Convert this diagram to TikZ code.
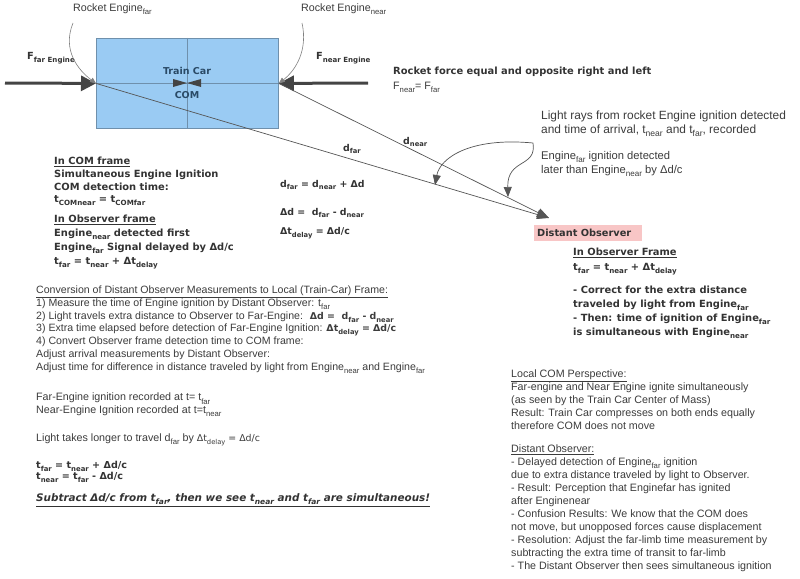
\documentclass[tikz,border=0pt]{standalone}
\usepackage{fontspec}
\setmainfont{Liberation Sans}
\newfontfamily\verd{DejaVu Sans}
\usetikzlibrary{arrows.meta}
\definecolor{txt}{HTML}{3C3C3C}
\definecolor{btxt}{HTML}{333333}
\definecolor{carblue}{HTML}{9ACBF3}
\definecolor{caredge}{HTML}{6F90AC}
\definecolor{titleblue}{HTML}{2A4A66}
\definecolor{argray}{HTML}{444444}
\definecolor{raygray}{HTML}{555555}
\definecolor{pinkbox}{HTML}{F8C6C6}
\newcommand\sbs[1]{\raisebox{-0.55ex}{\scalebox{0.72}{#1}}}
\begin{document}
\begin{tikzpicture}[x=1pt,y=-1pt,
  ar/.style={font=\fontsize{10.7}{12.8}\selectfont, text=txt, inner sep=0pt, anchor=north west, align=left},
  vb/.style={font=\verd\bfseries\fontsize{9.9}{13}\selectfont, text=btxt, inner sep=0pt, anchor=north west, align=left},
  eqf/.style={font=\verd\bfseries\fontsize{9.4}{13}\selectfont, text=btxt, inner sep=0pt, anchor=west},
  bigar/.style={draw=argray, line width=3pt, -{Triangle[length=15pt,width=15pt]}},
  ray/.style={draw=raygray, line width=0.7pt, -{Triangle[length=12pt,width=9pt]}},
  curv/.style={draw=raygray, line width=0.7pt, -{Triangle[length=10pt,width=8pt]}},
  lbl/.style={draw=gray, line width=0.6pt, -{Triangle[length=6pt,width=5pt]}},
]
\useasboundingbox (0,0) rectangle (800,578);
\fill[white] (0,0) rectangle (800,578);

% train car
\node[draw=caredge, fill=carblue, line width=0.8pt, minimum width=182pt, minimum height=90pt, inner sep=0pt, anchor=north west] (car) at (96,38) {};
\draw[caredge, line width=0.8pt] (car.north) -- (car.south);
\draw[caredge, line width=0.8pt] (car.west) -- (car.east);
\coordinate (far) at (car.west);
\coordinate (near) at (car.east);
\coordinate (lstart) at (5,83);
\coordinate (rstart) at (368,83);
\draw[bigar] (lstart) -- (far);
\draw[bigar] (rstart) -- (near);
\fill[argray] (173,79) -- (187,83) -- (173,87) -- cycle;
\fill[argray] (201,79) -- (187,83) -- (201,87) -- cycle;
\node[font=\verd\bfseries\fontsize{9.5}{11}\selectfont, text=titleblue, inner sep=0pt] (tc) at (187,71) {Train Car};
\node[font=\verd\bfseries\fontsize{9.5}{11}\selectfont, text=titleblue, inner sep=0pt] (com) at (187,95) {COM};

% force labels
\node[eqf, font=\verd\bfseries\fontsize{9.8}{13}\selectfont] (ffar) at (27,58) {F\sbs{far Engine}};
\node[eqf, font=\verd\bfseries\fontsize{9.8}{13}\selectfont] (fnear) at (316,58) {F\sbs{near Engine}};

% rocket engine labels
\node[ar, anchor=west] (refar) at (73,9) {Rocket Engine\sbs{far}};
\node[ar, anchor=west] (renear) at (301,9) {Rocket Engine\sbs{near}};
\coordinate (cfar) at (73,23);
\coordinate (cnear) at (302,23);
\draw[lbl] (cfar) .. controls (62,50) and (78,70) .. (far);
\draw[lbl] (cnear) .. controls (308,50) and (296,70) .. (near);

% rays to observer
\coordinate (obs) at (549,218);
\draw[ray] (far) -- (obs);
\draw[ray] (near) -- (obs);
\node[eqf] (dfar) at (343,149) {d\sbs{far}};
\node[eqf] (dnear) at (403,142) {d\sbs{near}};

% curved arrows
\coordinate (lr) at (533,143);
\coordinate (tipA) at (435,185);
\coordinate (tipB) at (508,197);
\draw[curv] (lr) .. controls (470,137) and (440,158) .. (tipA);
\draw[curv] (lr) .. controls (537,168) and (507,158) .. (tipB);

% top right text
\node[vb, anchor=west] (rf) at (393,72) {Rocket force equal and opposite right and left};
\node[ar, anchor=west] (feq) at (393,87) {F\sbs{near}= F\sbs{far}};
\node[ar, font=\fontsize{11.9}{13.5}\selectfont] (light) at (541,111) {Light rays from rocket Engine ignition detected\\and time of arrival, t\sbs{near} and t\sbs{far}, recorded};
\node[ar, font=\fontsize{11.2}{14}\selectfont] (efar) at (541,151) {Engine\sbs{far} ignition detected\\later than Engine\sbs{near} by Δd/c};

% distant observer
\node[fill=pinkbox, text width=102pt, inner xsep=3pt, inner ysep=0pt, minimum height=16pt, anchor=north west, font=\verd\bfseries\fontsize{9.8}{11}\selectfont, text=btxt] (dobs) at (534,225) {Distant Observer};

\node[vb, font=\verd\bfseries\fontsize{9.9}{15}\selectfont] (obsf) at (573,248) {\underline{In Observer Frame}\\t\sbs{far} = t\sbs{near} + Δt\sbs{delay}};
\node[vb, font=\verd\bfseries\fontsize{9.9}{13.8}\selectfont] (corr) at (573,286) {- Correct for the extra distance\\traveled by light from Engine\sbs{far}\\- Then: time of ignition of Engine\sbs{far}\\is simultaneous with Engine\sbs{near}};

% left COM block
\node[vb, font=\verd\bfseries\fontsize{9.9}{12.7}\selectfont] (comf) at (54,157) {\underline{In COM frame}\\Simultaneous Engine Ignition\\COM detection time:\\t\sbs{COMnear} = t\sbs{COMfar}};
\node[vb, font=\verd\bfseries\fontsize{9.9}{14}\selectfont] (obsfr) at (54,215) {\underline{In Observer frame}\\Engine\sbs{near} detected first\\Engine\sbs{far} Signal delayed by Δd/c\\t\sbs{far} = t\sbs{near} + Δt\sbs{delay}};

% middle equations
\node[eqf] (eq1) at (280,185) {d\sbs{far} = d\sbs{near} + Δd};
\node[eqf] (eq2) at (280,213) {Δd = \ d\sbs{far} - d\sbs{near}};
\node[eqf] (eq3) at (280,233) {Δt\sbs{delay} = Δd/c};

% conversion block
\node[ar, font=\fontsize{10.6}{12.7}\selectfont] (conv) at (36,286) {\underline{Conversion of Distant Observer Measurements to Local (Train-Car) Frame:}\\
1) Measure the time of Engine ignition by Distant Observer: t\sbs{far}\\
2) Light travels extra distance to Observer to Far-Engine: \ {\verd\bfseries\fontsize{9.4}{12}\selectfont Δd = \ d\sbs{far} - d\sbs{near}}\\
3) Extra time elapsed before detection of Far-Engine Ignition: {\verd\bfseries\fontsize{9.4}{12}\selectfont Δt\sbs{delay} = Δd/c}\\
4) Convert Observer frame detection time to COM frame:\\
Adjust arrival measurements by Distant Observer:\\
Adjust time for difference in distance traveled by light from Engine\sbs{near} and Engine\sbs{far}};

\node[ar] (rec) at (36,393) {Far-Engine ignition recorded at t= t\sbs{far}\\Near-Engine Ignition recorded at t=t\sbs{near}};
\node[ar, anchor=west] (longer) at (36,440) {Light takes longer to travel d\sbs{far} by {\verd\fontsize{9.4}{12}\selectfont Δt\sbs{delay} = Δd/c}};
\node[vb, font=\verd\bfseries\fontsize{9.6}{11.5}\selectfont] (teq) at (36,461) {t\sbs{far} = t\sbs{near} + Δd/c\\t\sbs{near} = t\sbs{far} - Δd/c};
\node[eqf, font=\verd\bfseries\itshape\fontsize{10.4}{12}\selectfont] (sub) at (36,500) {\underline{Subtract Δd/c from t\sbs{far}, then we see t\sbs{near} and t\sbs{far} are simultaneous!}};

% right block
\node[ar] (local) at (511,370) {\underline{Local COM Perspective:}\\Far-engine and Near Engine ignite simultaneously\\(as seen by the Train Car Center of Mass)\\Result: Train Car compresses on both ends equally\\therefore COM does not move};
\node[ar, font=\fontsize{10.7}{12.9}\selectfont] (dist) at (511,445) {\underline{Distant Observer:}\\- Delayed detection of Engine\sbs{far} ignition\\due to extra distance traveled by light to Observer.\\- Result: Perception that Enginefar has ignited\\after Enginenear\\- Confusion Results: We know that the COM does\\not move, but unopposed forces cause displacement\\- Resolution: Adjust the far-limb time measurement by\\subtracting the extra time of transit to far-limb\\- The Distant Observer then sees simultaneous ignition};
\end{tikzpicture}
\end{document}
